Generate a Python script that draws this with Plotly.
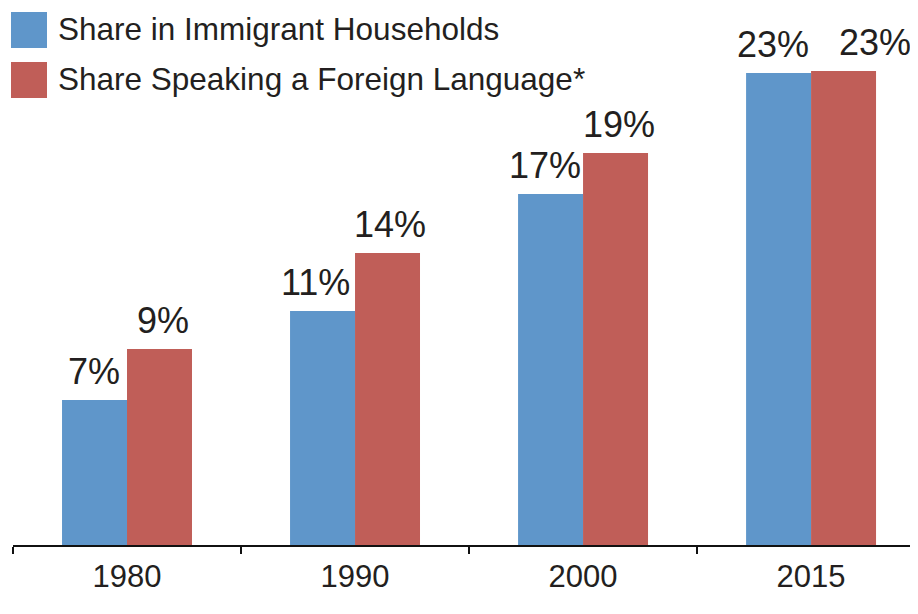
import plotly.graph_objects as go

years = ["1980", "1990", "2000", "2015"]
immigrant_share = [7.02, 11.33, 17.0, 22.86]
foreign_lang_share = [9.49, 14.14, 18.98, 22.95]
immigrant_labels = ["7%", "11%", "17%", "23%"]
foreign_lang_labels = ["9%", "14%", "19%", "23%"]
series_names = ["Share in Immigrant Households", "Share Speaking a Foreign Language*"]

# styling (not data)
BLUE = "#5F96CA"
RED = "#C05E58"
TXT = "#231F20"
FONT = "Liberation Sans, Arial, Helvetica, sans-serif"
BAR_OFFSET = 32.5          # px from category centre to each bar centre
blue_nudge = [-1, -7, -6, -6]
red_nudge = [3, 2, 3, 31]

# page body has an 8px margin -> figure is 910x606 drawn at (8,8)
W, H = 910, 606
ML, MB = 5, 69
PH = H - MB

fig = go.Figure()
fig.add_trace(go.Bar(x=years, y=immigrant_share, name=series_names[0],
                     marker=dict(color=BLUE, line=dict(width=0)), showlegend=False))
fig.add_trace(go.Bar(x=years, y=foreign_lang_share, name=series_names[1],
                     marker=dict(color=RED, line=dict(width=0)), showlegend=False))

# value labels (x given as category index)
for vals, labs, sign, nudges in [(immigrant_share, immigrant_labels, -1, blue_nudge),
                                 (foreign_lang_share, foreign_lang_labels, 1, red_nudge)]:
    for idx, (v, lab, n) in enumerate(zip(vals, labs, nudges)):
        fig.add_annotation(x=idx, y=v, xref="x", yref="y", text=lab, showarrow=False,
                           xanchor="center", yanchor="bottom",
                           xshift=sign * BAR_OFFSET + n, yshift=6,
                           font=dict(size=36, color=TXT, family=FONT))

# manual legend with large square swatches
for i, (name, col) in enumerate(zip(series_names, [BLUE, RED])):
    top = 4 + 50 * i
    bot = top + 36
    fig.add_shape(type="rect", xref="paper", yref="paper",
                  x0=(3 - ML) / (W - ML), x1=(39 - ML) / (W - ML),
                  y0=1 - bot / PH, y1=1 - top / PH,
                  fillcolor=col, line=dict(width=0))
    fig.add_annotation(xref="paper", yref="paper", x=(48 - ML) / (W - ML),
                       y=1 - (top + 17) / PH,
                       text=name, showarrow=False, xanchor="left", yanchor="middle",
                       font=dict(size=31.5, color=TXT, family=FONT))

fig.update_layout(
    width=W, height=H,
    margin=dict(l=ML, r=0, t=0, b=MB),
    barmode="group", bargap=0.43, bargroupgap=0,
    plot_bgcolor="white", paper_bgcolor="white",
    font=dict(family=FONT, color=TXT),
    xaxis=dict(type="category", showline=True, linecolor="#111", linewidth=2,
               range=[-0.5, 3.469],
               ticks="outside", tickson="boundaries", ticklen=7, tickwidth=2,
               tickcolor="#111", tickfont=dict(size=31, color=TXT, family=FONT),
               ticklabelstandoff=3,
               showgrid=False, zeroline=False),
    yaxis=dict(range=[0, PH / 20.65], visible=False, showgrid=False, zeroline=False),
)

fig.write_html("out.html")
